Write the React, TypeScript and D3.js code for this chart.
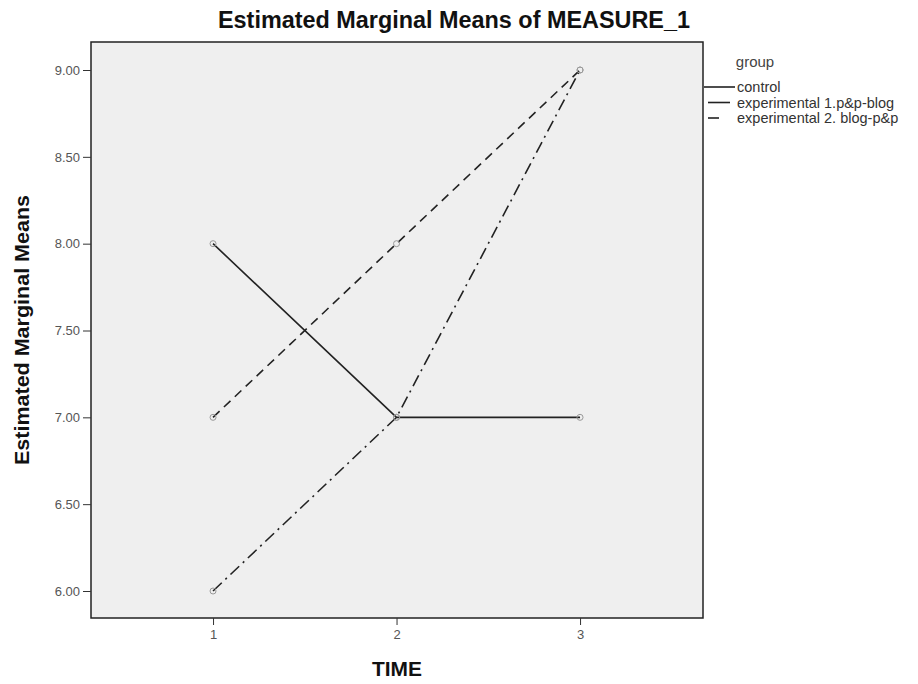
import * as d3 from "d3";
import { useEffect, useRef } from "react";

const times = [1, 2, 3];
const yTicks = [6.0, 6.5, 7.0, 7.5, 8.0, 8.5, 9.0];
const groups = ["control", "experimental 1.p&p-blog", "experimental 2. blog-p&p"];
const control = [8.0, 7.0, 7.0];
const exp1 = [7.0, 8.0, 9.0];
const exp2 = [6.0, 7.0, 9.0];
const dashes = ["none", "9,6", "12,5,2,5"];

const App = () => {
  const svgRef = useRef<SVGSVGElement>(null);

  useEffect(() => {
    const svg = d3.select(svgRef.current);
    svg.selectAll("*").remove();
    const font = "Arial, 'Liberation Sans', sans-serif";

    const left = 91, right = 703, top = 42, bottom = 618;
    const x = d3.scaleLinear().domain([0.335, 3.67]).range([left, right]);
    const y = d3.scaleLinear().domain([6, 9]).range([591, 70]);

    svg.append("rect").attr("width", 918).attr("height", 684).attr("fill", "#fff");

    // plot area
    svg
      .append("rect")
      .attr("x", left)
      .attr("y", top)
      .attr("width", right - left)
      .attr("height", bottom - top)
      .attr("fill", "#efefef")
      .attr("stroke", "#222")
      .attr("stroke-width", 1.5);

    svg
      .append("text")
      .attr("x", 454)
      .attr("y", 28)
      .attr("text-anchor", "middle")
      .attr("font-family", font)
      .attr("font-weight", "bold")
      .attr("font-size", 23)
      .attr("textLength", 472)
      .attr("lengthAdjust", "spacingAndGlyphs")
      .attr("fill", "#111")
      .text("Estimated Marginal Means of MEASURE_1");

    // y axis
    const yAxis = svg
      .append("g")
      .attr("transform", `translate(${left},0)`)
      .call(
        d3
          .axisLeft(y)
          .tickValues(yTicks)
          .tickSize(8)
          .tickPadding(3)
          .tickFormat(d3.format(".2f"))
      );
    yAxis.select(".domain").remove();
    yAxis.selectAll("line").attr("stroke", "#333");
    yAxis.selectAll("text").attr("font-family", font).attr("font-size", 13).attr("fill", "#555");

    // x axis
    const xAxis = svg
      .append("g")
      .attr("transform", `translate(0,${bottom})`)
      .call(d3.axisBottom(x).tickValues(times).tickSize(7).tickPadding(5).tickFormat(d3.format("d")));
    xAxis.select(".domain").remove();
    xAxis.selectAll("line").attr("stroke", "#333");
    xAxis.selectAll("text").attr("font-family", font).attr("font-size", 13).attr("fill", "#555");

    svg
      .append("text")
      .attr("x", 397)
      .attr("y", 676)
      .attr("text-anchor", "middle")
      .attr("font-family", font)
      .attr("font-weight", "bold")
      .attr("font-size", 20)
      .attr("textLength", 50)
      .attr("lengthAdjust", "spacingAndGlyphs")
      .attr("fill", "#111")
      .text("TIME");

    svg
      .append("text")
      .attr("transform", `translate(29,330) rotate(-90)`)
      .attr("text-anchor", "middle")
      .attr("font-family", font)
      .attr("font-weight", "bold")
      .attr("font-size", 21)
      .attr("textLength", 270)
      .attr("lengthAdjust", "spacingAndGlyphs")
      .attr("fill", "#111")
      .text("Estimated Marginal Means");

    // lines
    const series = [control, exp1, exp2];
    const line = d3
      .line<number>()
      .x((_, i) => x(times[i]))
      .y((d) => y(d));

    series.forEach((s, k) => {
      svg
        .append("path")
        .datum(s)
        .attr("d", line)
        .attr("fill", "none")
        .attr("stroke", "#222")
        .attr("stroke-width", 1.6)
        .attr("stroke-dasharray", dashes[k]);
      svg
        .selectAll(null)
        .data(s)
        .enter()
        .append("circle")
        .attr("cx", (_, i) => x(times[i]))
        .attr("cy", (d) => y(d))
        .attr("r", 3)
        .attr("fill", "none")
        .attr("stroke", "#999")
        .attr("stroke-width", 1);
    });

    // legend
    svg
      .append("text")
      .attr("x", 755)
      .attr("y", 67)
      .attr("text-anchor", "middle")
      .attr("font-family", font)
      .attr("font-size", 15)
      .attr("fill", "#444")
      .text("group");

    const legendX = [[704, 735], [708, 730], [708, 719]];
    groups.forEach((g, i) => {
      const ly = 87 + i * 15.5;
      svg
        .append("line")
        .attr("x1", legendX[i][0])
        .attr("x2", legendX[i][1])
        .attr("y1", ly)
        .attr("y2", ly)
        .attr("stroke", "#222")
        .attr("stroke-width", 1.6);
      svg
        .append("text")
        .attr("x", 737)
        .attr("y", ly + 5)
        .attr("font-family", font)
        .attr("font-size", 14.5)
        .attr("fill", "#333")
        .text(g);
    });
  }, []);

  return (
    <svg
      ref={svgRef}
      width={918}
      height={684}
      style={{ position: "absolute", left: 0, top: 0 }}
    ></svg>
  );
};

export default App;
